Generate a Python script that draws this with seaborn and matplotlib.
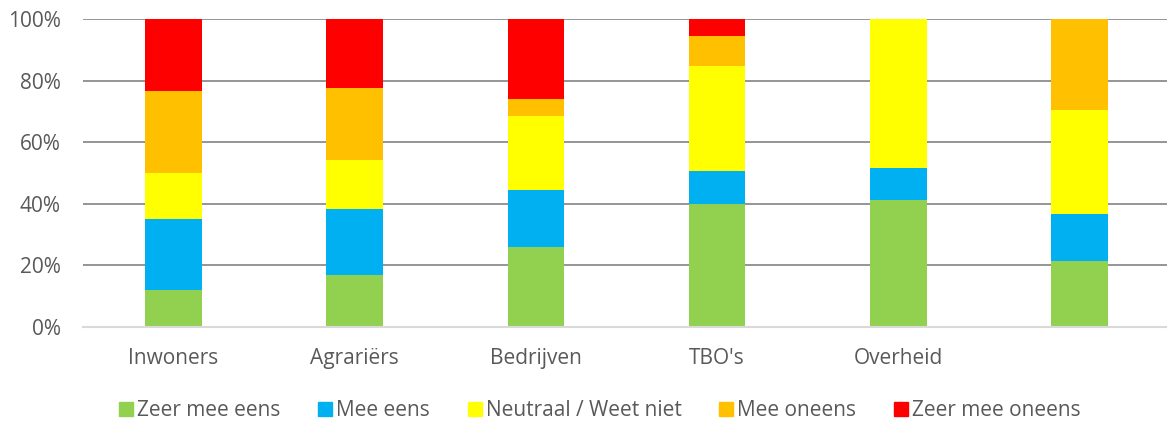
import numpy as np
import pandas as pd
import matplotlib.pyplot as plt
import matplotlib.patches as mpatches
import seaborn as sns

# ------------------------------------------------------------
# Data (percentages)
# ------------------------------------------------------------
categories = ["Inwoners", "Agrariërs", "Bedrijven", "TBO's", "Overheid", ""]

series_names = ["Zeer mee eens", "Mee eens", "Neutraal / Weet niet",
                "Mee oneens", "Zeer mee oneens"]

zeer_mee_eens   = [12.1, 16.8, 26.0, 39.8, 41.2, 21.3]
mee_eens        = [23.1, 21.4, 18.5, 11.0, 10.3, 15.3]
neutraal        = [14.7, 16.0, 23.9, 33.9, 48.5, 33.7]
mee_oneens      = [26.8, 23.3, 5.7, 9.9, 0.0, 29.7]
zeer_mee_oneens = [23.3, 22.5, 25.9, 5.4, 0.0, 0.0]

colors = ["#92D050", "#00B0F0", "#FFFF00", "#FFC000", "#FF0000"]

# ------------------------------------------------------------
# Build cumulative table (stacking via overlapping bars)
# ------------------------------------------------------------
df = pd.DataFrame({
    "category": categories,
    series_names[0]: zeer_mee_eens,
    series_names[1]: mee_eens,
    series_names[2]: neutraal,
    series_names[3]: mee_oneens,
    series_names[4]: zeer_mee_oneens,
})
totals = df[series_names].sum(axis=1)
cum = df[series_names].cumsum(axis=1).div(totals, axis=0) * 100

sns.set_style("white")
plt.rcParams["font.family"] = ["Open Sans", "DejaVu Sans"]
text_color = "#595959"

fig = plt.figure(figsize=(11.67, 4.25), dpi=100)
ax = fig.add_axes([83 / 1167, 98 / 425, 1087 / 1167, 308 / 425])

# draw tallest cumulative first so the lower segments sit on top
for name, color in reversed(list(zip(series_names, colors))):
    sns.barplot(x=df["category"], y=cum[name], color=color,
                width=0.312, saturation=1, linewidth=0,
                order=categories, ax=ax, zorder=3)

ax.set_xlim(-0.5, len(categories) - 0.5)
ax.set_ylim(0, 100)
ax.set_yticks(np.arange(0, 101, 20))
ax.set_yticklabels([f"{v}%" for v in range(0, 101, 20)])
ax.set_xlabel("")
ax.set_ylabel("")

ax.yaxis.grid(True, color="#8c8c8c", linewidth=1.3, zorder=0)
ax.set_axisbelow(True)
for side in ["top", "right", "left"]:
    ax.spines[side].set_visible(False)
ax.spines["bottom"].set_color("#d9d9d9")
ax.spines["bottom"].set_linewidth(1.5)
ax.spines["bottom"].set_zorder(4)

ax.tick_params(axis="both", length=0, labelsize=15, colors=text_color)
ax.tick_params(axis="x", pad=15)
ax.tick_params(axis="y", pad=16)

handles = [mpatches.Patch(color=c, label=n) for n, c in zip(series_names, colors)]
fig.legend(handles=handles, loc="center", bbox_to_anchor=(0.514, 0.033),
           ncol=5, frameon=False, fontsize=15, labelcolor=text_color,
           handlelength=0.67, handleheight=0.67, handletextpad=0.2,
           columnspacing=1.8)

fig.savefig("out.png", dpi=100)
